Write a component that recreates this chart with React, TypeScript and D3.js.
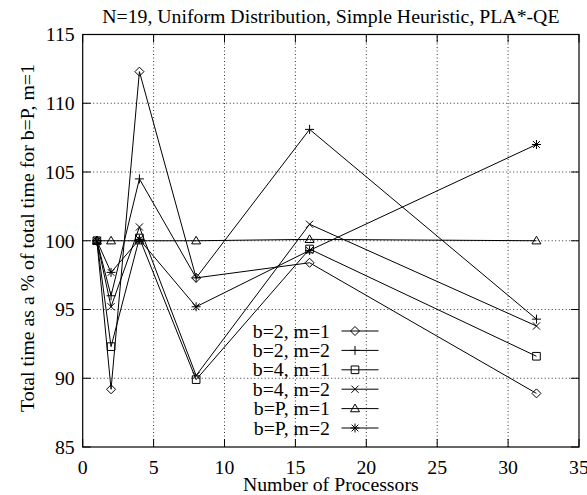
import * as d3 from "d3";
import { useEffect, useRef } from "react";

const processors = [1, 2, 4, 8, 16, 32];

const b2m1 = [100, 89.2, 112.3, 97.3, 98.4, 88.9];
const b2m2 = [100, 96.0, 104.5, 97.3, 108.1, 94.3];
const b4m1 = [100, 92.3, 100.2, 89.9, 99.4, 91.6];
const b4m2 = [100, 95.2, 101.0, 90.2, 101.2, 93.8];
const bPm1 = [100, 100, 100, 100, 100.1, 100];
const bPm2 = [100, 97.7, 100.1, 95.2, 99.3, 107.0];

const seriesNames = ["b=2, m=1", "b=2, m=2", "b=4, m=1", "b=4, m=2", "b=P, m=1", "b=P, m=2"];
const markers = ["diamond", "plus", "square", "cross", "triangle", "star"];

const xTicks = [0, 5, 10, 15, 20, 25, 30, 35];
const yTicks = [85, 90, 95, 100, 105, 110, 115];

const W = 587;
const H = 495;
const margin = { top: 34.5, right: 8, bottom: 48, left: 82.7 };

function markerPath(kind: string, s: number) {
  switch (kind) {
    case "diamond":
      return `M0,${-s}L${s},0L0,${s}L${-s},0Z`;
    case "plus":
      return `M${-s},0H${s}M0,${-s}V${s}`;
    case "square":
      return `M${-s * 0.85},${-s * 0.85}H${s * 0.85}V${s * 0.85}H${-s * 0.85}Z`;
    case "cross":
      return `M${-s * 0.8},${-s * 0.8}L${s * 0.8},${s * 0.8}M${-s * 0.8},${s * 0.8}L${s * 0.8},${-s * 0.8}`;
    case "triangle":
      return `M0,${-s}L${s},${s * 0.7}L${-s},${s * 0.7}Z`;
    default:
      return `M${-s},0H${s}M0,${-s}V${s}M${-s * 0.75},${-s * 0.75}L${s * 0.75},${s * 0.75}M${-s * 0.75},${s * 0.75}L${s * 0.75},${-s * 0.75}`;
  }
}

export default function App() {
  const ref = useRef<SVGSVGElement>(null);

  useEffect(() => {
    if (!ref.current) return;
    const svg = d3.select(ref.current);
    svg.selectAll("*").remove();

    const x0 = margin.left;
    const x1 = W - margin.right;
    const y0 = H - margin.bottom;
    const y1 = margin.top;

    const x = d3.scaleLinear().domain([0, 35]).range([x0, x1]);
    const y = d3.scaleLinear().domain([85, 115]).range([y0, y1]);
    const fs = 19.8;
    const cx = (x0 + x1) / 2;

    // grid
    const grid = svg.append("g").attr("stroke", "#333").attr("stroke-width", 1).attr("stroke-dasharray", "1,2.5");
    xTicks.slice(1, -1).forEach((t) => {
      grid.append("line").attr("x1", x(t)).attr("x2", x(t)).attr("y1", y0).attr("y2", y1);
    });
    yTicks.slice(1, -1).forEach((t) => {
      grid.append("line").attr("x1", x0).attr("x2", x1).attr("y1", y(t)).attr("y2", y(t));
    });

    // ticks
    const tk = svg.append("g").attr("stroke", "#000").attr("stroke-width", 1);
    const tl = 8;
    xTicks.forEach((t) => {
      tk.append("line").attr("x1", x(t)).attr("x2", x(t)).attr("y1", y0).attr("y2", y0 - tl);
      tk.append("line").attr("x1", x(t)).attr("x2", x(t)).attr("y1", y1).attr("y2", y1 + tl);
    });
    yTicks.forEach((t) => {
      tk.append("line").attr("x1", x0).attr("x2", x0 + tl).attr("y1", y(t)).attr("y2", y(t));
      tk.append("line").attr("x1", x1).attr("x2", x1 - tl).attr("y1", y(t)).attr("y2", y(t));
    });

    // tick labels
    const lab = svg.append("g").attr("font-size", fs).attr("fill", "#000");
    xTicks.forEach((t) => {
      lab.append("text").attr("x", x(t)).attr("y", y0 + 26.5).attr("text-anchor", "middle").text(t);
    });
    yTicks.forEach((t) => {
      lab.append("text").attr("x", x0 - 8).attr("y", y(t) + 6.8).attr("text-anchor", "end").text(t);
    });

    // series
    const all = [b2m1, b2m2, b4m1, b4m2, bPm1, bPm2];
    const line = d3
      .line<number>()
      .x((_, i) => x(processors[i]))
      .y((d) => y(d));
    all.forEach((vals, si) => {
      svg.append("path").attr("d", line(vals)).attr("fill", "none").attr("stroke", "#000").attr("stroke-width", 1);
      vals.forEach((v, i) => {
        svg
          .append("path")
          .attr("transform", `translate(${x(processors[i])},${y(v)})`)
          .attr("d", markerPath(markers[si], 4.5))
          .attr("fill", "none")
          .attr("stroke", "#000")
          .attr("stroke-width", 1);
      });
    });

    // legend
    const lg = svg.append("g").attr("font-size", fs);
    seriesNames.forEach((name, i) => {
      const ly = 331 + i * 19.4;
      lg.append("text").attr("x", 330).attr("y", ly + 6.5).attr("text-anchor", "end").text(name);
      lg.append("line").attr("x1", 341.5).attr("x2", 378.5).attr("y1", ly).attr("y2", ly).attr("stroke", "#000");
      lg.append("path")
        .attr("transform", `translate(355,${ly})`)
        .attr("d", markerPath(markers[i], 4.5))
        .attr("fill", "none")
        .attr("stroke", "#000");
    });

    // border
    svg
      .append("rect")
      .attr("x", x0)
      .attr("y", y1)
      .attr("width", x1 - x0)
      .attr("height", y0 - y1)
      .attr("fill", "none")
      .attr("stroke", "#000")
      .attr("stroke-width", 1.2);

    // titles
    svg.append("text").attr("x", cx).attr("y", 22.5).attr("text-anchor", "middle")
      .attr("font-size", fs).text("N=19, Uniform Distribution, Simple Heuristic, PLA*-QE");
    svg.append("text").attr("x", cx).attr("y", 491).attr("text-anchor", "middle")
      .attr("font-size", fs).text("Number of Processors");
    svg.append("text").attr("transform", "translate(34,238) rotate(-90)").attr("text-anchor", "middle")
      .attr("font-size", fs).text("Total time as a % of total time for b=P, m=1");
  }, []);

  return (
    <svg
      ref={ref}
      width={W}
      height={H}
      style={{ position: "absolute", left: 0, top: 0, background: "#fff", fontFamily: "'Liberation Serif', serif" }}
    />
  );
}
